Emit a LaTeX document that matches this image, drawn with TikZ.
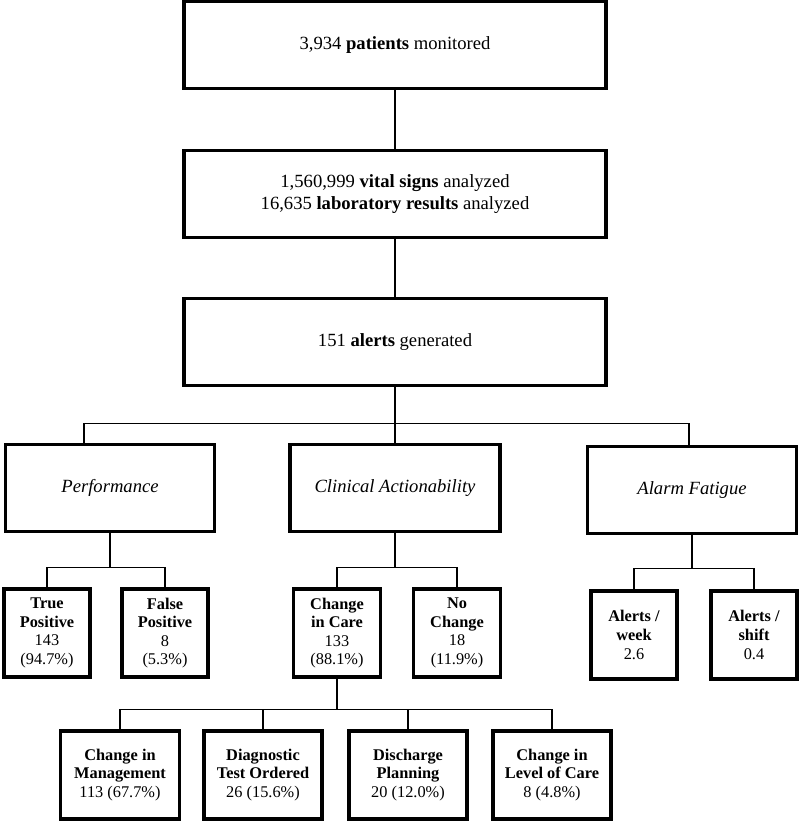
\documentclass[tikz,border=0pt]{standalone}
\usepackage{fontspec}
\setmainfont{Liberation Serif}
\begin{document}
\begin{tikzpicture}[x=0.02cm, y=-0.02cm,
  box/.style 2 args={draw, line width=2pt, minimum width=#1*0.02cm, minimum height=#2*0.02cm,
    align=center, inner sep=1pt, font=\fontsize{10.6}{12.8}\selectfont},
  sbox/.style={box={#1}{88}, font=\fontsize{9.3}{10.6}\selectfont},
  link/.style={line width=0.6pt}]
  \useasboundingbox (0,0) rectangle (800,821);

  \node[box={422}{87}] (pat) at (395,45) {3,934 \textbf{patients} monitored};
  \node[box={422}{87}] (vit) at (395,194) {1,560,999 \textbf{vital signs} analyzed\\16,635 \textbf{laboratory results} analyzed};
  \node[box={422}{87}] (alr) at (395,342) {151 \textbf{alerts} generated};

  \node[box={209}{87}] (perf) at (110,488) {\textit{Performance}};
  \node[box={210}{87}] (clin) at (395,488) {\textit{Clinical Actionability}};
  \node[box={209}{87}] (fat) at (692,490) {\textit{Alarm Fatigue}};

  \node[sbox=86] (tp) at (47,633) {\textbf{True}\\\textbf{Positive}\\143\\(94.7\%)};
  \node[sbox=86] (fp) at (165,633) {\textbf{False}\\\textbf{Positive}\\8\\(5.3\%)};
  \node[sbox=87] (cic) at (337,633) {\textbf{Change}\\\textbf{in Care}\\133\\(88.1\%)};
  \node[sbox=87] (nc) at (457,633) {\textbf{No}\\\textbf{Change}\\18\\(11.9\%)};
  \node[sbox=86] (aws) at (634,635) {\textbf{Alerts /}\\\textbf{week}\\2.6};
  \node[sbox=86] (ash) at (754,635) {\textbf{Alerts /}\\\textbf{shift}\\0.4};

  \node[sbox=119] (cim) at (120,775) {\textbf{Change in}\\\textbf{Management}\\113 (67.7\%)};
  \node[sbox=118] (dto) at (263,775) {\textbf{Diagnostic}\\\textbf{Test Ordered}\\26 (15.6\%)};
  \node[sbox=118] (dp) at (408,775) {\textbf{Discharge}\\\textbf{Planning}\\20 (12.0\%)};
  \node[sbox=118] (clc) at (552,775) {\textbf{Change in}\\\textbf{Level of Care}\\8 (4.8\%)};

  \draw[link] (pat.south) -- (vit.north);
  \draw[link] (vit.south) -- (alr.north);

  \draw[link] (alr.south) -- ++(0,36) coordinate (bus1);
  \draw[link] ([xshift=-0.52cm]perf.north) |- (bus1) -| ([xshift=-0.06cm]fat.north);
  \draw[link] (bus1) -- (clin.north);

  \draw[link] (perf.south) -- ++(0,34) coordinate (bus2);
  \draw[link] (tp.north) |- (bus2) -| (fp.north);

  \draw[link] (clin.south) -- ++(0,34) coordinate (bus3);
  \draw[link] (cic.north) |- (bus3) -| (nc.north);

  \draw[link] (fat.south) -- ++(0,33) coordinate (bus4);
  \draw[link] (aws.north) |- (bus4) -| (ash.north);

  \draw[link] (cic.south) -- ++(0,31) coordinate (bus5);
  \draw[link] (cim.north) |- (bus5) -| (clc.north);
  \draw[link] (dto.north) -- (dto.north |- bus5);
  \draw[link] (dp.north) -- (dp.north |- bus5);

\end{tikzpicture}
\end{document}
